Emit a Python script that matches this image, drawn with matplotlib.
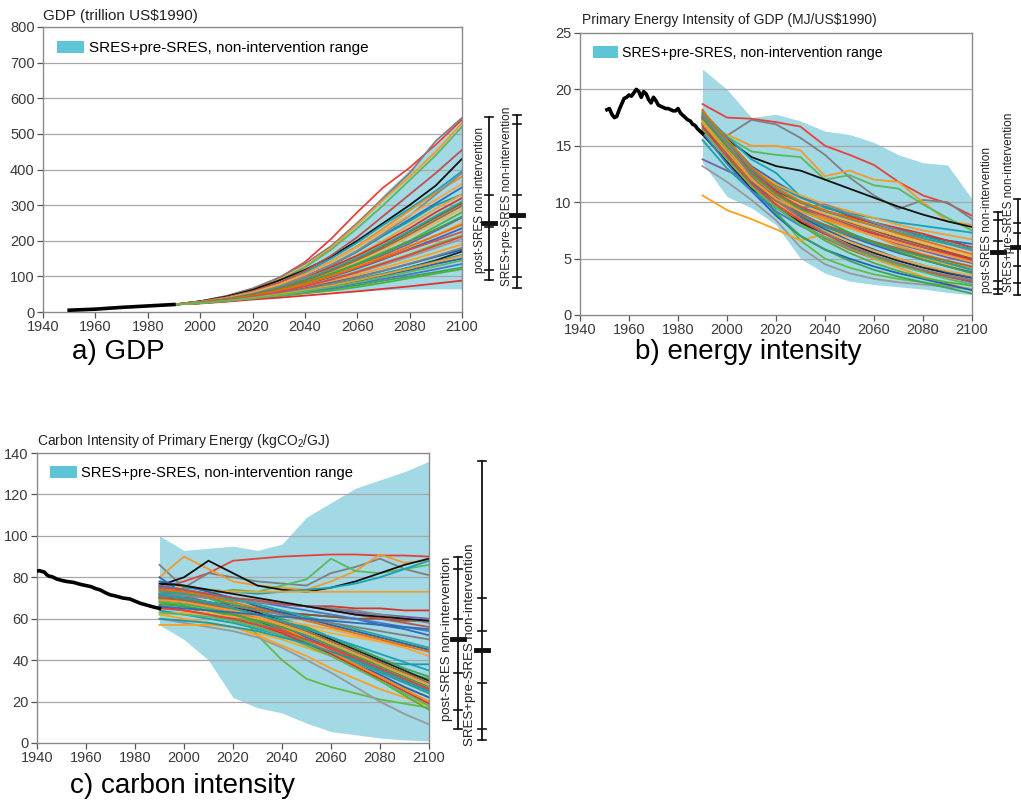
import matplotlib
matplotlib.use("Agg")
import matplotlib.pyplot as plt
from matplotlib.patches import Patch
from matplotlib.transforms import blended_transform_factory

plt.rcParams["font.family"] = "Liberation Sans"
plt.rcParams["mathtext.fontset"] = "custom"
plt.rcParams["mathtext.rm"] = "Liberation Sans"
plt.rcParams["mathtext.default"] = "regular"

W, H = 1021, 808

# scenario years (decadal)
years = [1990, 2000, 2010, 2020, 2030, 2040, 2050, 2060, 2070, 2080, 2090, 2100]

line_colors = ['#e8413c', '#7f7f7f', '#f39a2b', '#5cb85c', '#111111', '#17a2b8',
               '#2e6db4', '#1c9aa8', '#f0a030', '#d9342b', '#8b5a2b', '#f7b040',
               '#4caf50', '#7b5ea7', '#f5a623', '#3366cc', '#e04e39', '#66bb44',
               '#999999', '#ff9f1c', '#1f5fbf', '#222222', '#20a0a0', '#2b5fa8',
               '#3aa655', '#4477cc', '#52b043', '#e03030', '#f08c1a', '#888888',
               '#c0504d', '#f2a541', '#26a69a', '#9c6b3c', '#43a047', '#ef6c00']

# ---------------- a) GDP ----------------
gdp_hist_years = [1950, 1955, 1960, 1965, 1970, 1975, 1980, 1985, 1990]
gdp_hist = [5, 6.5, 8, 10.5, 13, 15, 17, 19, 21]
gdp_upper = [22, 32, 45, 62, 85, 125, 180, 250, 330, 400, 470, 550]
gdp_lower = [20, 26, 33, 40, 47, 53, 57, 60, 62, 64, 65, 65]
gdp_scen = [
    [21, 30, 44, 65, 95, 140, 205, 280, 350, 405, 470, 540],
    [21, 30, 45, 66, 96, 135, 185, 250, 320, 390, 480, 545],
    [21, 29, 42, 62, 90, 128, 180, 245, 315, 380, 450, 530],
    [21, 29, 42, 60, 88, 125, 175, 235, 300, 370, 440, 520],
    [21, 30, 43, 62, 88, 118, 155, 200, 250, 300, 355, 430],
    [21, 29, 40, 57, 80, 110, 150, 195, 245, 290, 340, 395],
    [21, 28, 39, 54, 75, 100, 132, 170, 215, 260, 305, 350],
    [21, 28, 38, 52, 72, 97, 130, 170, 215, 255, 300, 330],
    [21, 28, 38, 52, 70, 95, 125, 160, 200, 245, 290, 330],
    [21, 28, 39, 54, 74, 98, 126, 158, 195, 235, 280, 320],
    [21, 27, 37, 50, 68, 90, 118, 150, 185, 225, 265, 305],
    [21, 27, 36, 48, 65, 86, 112, 142, 175, 212, 250, 290],
    [21, 27, 36, 48, 64, 84, 108, 136, 168, 200, 240, 280],
    [21, 27, 36, 47, 62, 81, 104, 130, 160, 192, 228, 265],
    [21, 27, 35, 46, 61, 80, 102, 128, 155, 185, 215, 250],
    [21, 26, 34, 45, 59, 77, 98, 122, 148, 177, 205, 235],
    [21, 26, 34, 45, 60, 78, 100, 125, 150, 175, 200, 225],
    [21, 26, 34, 44, 57, 73, 92, 114, 138, 162, 190, 215],
    [21, 26, 33, 43, 56, 72, 90, 110, 132, 155, 180, 205],
    [21, 26, 33, 42, 54, 68, 85, 104, 124, 145, 167, 190],
    [21, 26, 33, 42, 53, 66, 82, 98, 116, 135, 155, 175],
    [21, 25, 32, 40, 50, 62, 75, 88, 105, 125, 145, 170],
    [21, 25, 32, 40, 50, 62, 76, 92, 108, 125, 142, 160],
    [21, 25, 31, 39, 48, 59, 72, 86, 102, 118, 135, 150],
    [21, 25, 31, 38, 46, 55, 64, 75, 88, 100, 112, 125],
    [21, 25, 31, 38, 46, 56, 67, 80, 93, 106, 120, 135],
    [21, 25, 30, 37, 44, 52, 60, 70, 82, 95, 108, 120],
    [21, 24, 29, 35, 40, 46, 52, 58, 65, 72, 80, 88],
    [21, 28, 40, 56, 78, 106, 142, 185, 235, 285, 335, 380],
    [21, 28, 38, 53, 73, 99, 132, 172, 220, 270, 330, 390],
    [21, 29, 41, 58, 82, 115, 158, 210, 270, 330, 390, 455],
    [21, 28, 39, 55, 77, 105, 140, 182, 228, 272, 315, 360],
    [21, 27, 37, 51, 69, 92, 120, 152, 188, 228, 270, 310],
    [21, 27, 36, 49, 66, 88, 115, 146, 180, 218, 258, 298],
    [21, 26, 35, 46, 62, 82, 106, 134, 165, 198, 232, 268],
    [21, 26, 34, 45, 60, 79, 101, 126, 154, 184, 214, 245],
    [21, 26, 33, 43, 56, 72, 91, 112, 136, 160, 186, 212],
    [21, 25, 32, 41, 52, 65, 80, 97, 116, 136, 157, 180],
    [21, 25, 31, 39, 49, 61, 74, 89, 105, 122, 140, 158],
    [21, 25, 31, 38, 47, 58, 70, 83, 98, 113, 128, 145],
]
gdp_post = dict(lo=90, hi=547, ticks=[118, 239, 328], median=250)
gdp_sres = dict(lo=67, hi=553, ticks=[98, 236, 328, 528], median=272)

# ---------------- b) energy intensity ----------------
ei_hist_years = list(range(1951, 1991))
ei_hist = [18.2, 18.3, 17.8, 17.5, 17.6, 18.2, 18.7, 19.2, 19.3, 19.5,
           19.4, 19.7, 20.0, 19.8, 19.3, 19.8, 19.6, 19.1, 18.8, 19.3,
           19.0, 18.6, 18.5, 18.4, 18.3, 18.3, 18.2, 18.1, 18.1, 18.3,
           17.9, 17.7, 17.5, 17.3, 17.2, 16.9, 16.8, 16.5, 16.3, 16.1]
ei_upper = [21.8, 20.0, 17.5, 17.8, 17.2, 16.3, 16.0, 15.3, 14.2, 13.5, 13.3, 10.3]
ei_lower = [13.5, 10.5, 9.5, 8.0, 5.0, 3.7, 3.0, 2.7, 2.5, 2.3, 2.0, 1.8]
ei_scen = [
    [18.7, 17.5, 17.4, 17.1, 16.7, 15.0, 14.2, 13.3, 11.8, 10.6, 9.9, 8.8],
    [16.2, 15.9, 17.3, 16.9, 15.7, 14.2, 12.2, 10.6, 9.4, 10.2, 10.0, 8.5],
    [17.0, 16.0, 15.0, 15.0, 14.6, 12.3, 12.8, 12.0, 11.8, 10.0, 8.3, 8.0],
    [17.3, 15.8, 14.5, 14.2, 14.0, 12.0, 12.4, 11.5, 11.2, 9.8, 8.6, 7.5],
    [17.5, 15.6, 14.0, 13.2, 12.8, 12.0, 11.2, 10.4, 9.6, 8.9, 8.3, 7.8],
    [18.0, 15.8, 13.8, 12.6, 10.5, 9.5, 9.0, 8.6, 8.2, 7.9, 7.6, 7.3],
    [17.8, 15.5, 13.2, 11.8, 10.5, 9.6, 8.8, 8.1, 7.5, 7.0, 6.6, 6.3],
    [17.0, 15.0, 13.0, 11.5, 10.4, 9.6, 8.9, 8.2, 7.6, 7.0, 6.4, 5.8],
    [16.5, 14.8, 13.0, 11.6, 10.6, 9.8, 9.2, 8.6, 8.0, 7.5, 7.1, 6.7],
    [17.6, 15.3, 12.8, 11.0, 9.8, 9.2, 8.7, 8.2, 7.7, 7.2, 6.6, 6.0],
    [17.5, 15.2, 13.0, 11.0, 9.9, 9.0, 8.2, 7.5, 6.8, 6.2, 5.6, 5.0],
    [17.2, 14.6, 12.4, 10.8, 9.8, 9.0, 8.3, 7.6, 7.0, 6.4, 5.8, 5.2],
    [17.9, 15.0, 12.0, 10.2, 8.8, 7.8, 7.0, 6.3, 5.7, 5.1, 4.6, 4.2],
    [13.8, 12.8, 11.8, 10.6, 9.5, 8.6, 7.8, 7.0, 6.3, 5.7, 5.1, 4.6],
    [16.8, 14.2, 11.6, 9.6, 8.4, 7.6, 6.9, 6.2, 5.6, 5.0, 4.5, 4.0],
    [17.4, 14.6, 12.2, 10.4, 9.0, 7.9, 7.0, 6.2, 5.5, 4.9, 4.3, 3.8],
    [18.2, 15.0, 12.4, 10.3, 8.2, 6.8, 5.8, 5.0, 4.4, 3.9, 3.5, 3.1],
    [17.1, 14.0, 11.4, 9.2, 6.6, 5.0, 4.2, 3.6, 3.2, 2.9, 2.6, 2.3],
    [13.2, 11.8, 10.2, 8.4, 6.0, 4.5, 3.7, 3.2, 2.9, 2.7, 2.5, 2.3],
    [10.6, 9.3, 8.5, 7.6, 6.6, 7.2, 6.0, 5.0, 4.2, 3.4, 2.8, 2.2],
    [17.0, 14.2, 11.0, 8.8, 7.0, 5.8, 5.0, 4.3, 3.7, 3.2, 2.7, 2.2],
    [16.0, 13.6, 11.2, 9.5, 8.2, 7.2, 6.3, 5.5, 4.8, 4.2, 3.7, 3.3],
    [15.5, 13.0, 11.0, 9.6, 8.6, 7.8, 7.1, 6.4, 5.8, 5.2, 4.6, 4.0],
    [16.8, 14.0, 11.8, 10.0, 8.7, 7.6, 6.6, 5.8, 5.0, 4.4, 3.8, 3.3],
    [17.6, 14.4, 11.5, 9.0, 7.0, 5.8, 4.8, 4.0, 3.4, 2.9, 2.4, 1.9],
    [16.2, 13.4, 11.0, 9.2, 7.9, 6.9, 6.0, 5.2, 4.5, 3.9, 3.4, 2.9],
    [17.3, 14.4, 11.6, 9.6, 8.0, 6.6, 5.5, 4.6, 3.9, 3.3, 2.9, 2.6],
    [17.0, 15.5, 13.0, 11.0, 9.2, 8.4, 7.8, 7.2, 6.6, 6.0, 5.5, 4.9],
    [17.8, 15.2, 12.4, 10.6, 9.3, 8.6, 7.8, 7.0, 6.1, 5.4, 4.8, 4.2],
    [17.5, 14.0, 11.4, 9.8, 9.5, 9.8, 9.0, 8.2, 7.5, 6.8, 6.3, 5.7],
    [17.6, 15.0, 12.6, 10.8, 9.6, 8.8, 8.0, 7.3, 6.6, 6.0, 5.4, 4.8],
    [17.2, 14.8, 12.2, 10.0, 8.5, 7.4, 6.5, 5.7, 5.0, 4.4, 3.9, 3.5],
    [17.9, 15.4, 12.9, 11.2, 10.0, 9.2, 8.5, 7.9, 7.3, 6.8, 6.3, 5.9],
    [16.9, 14.3, 11.9, 10.1, 8.9, 8.0, 7.2, 6.5, 5.9, 5.3, 4.8, 4.3],
    [17.4, 14.9, 12.5, 10.7, 9.4, 8.3, 7.3, 6.4, 5.6, 4.9, 4.3, 3.7],
    [18.1, 15.6, 13.1, 11.3, 10.1, 9.3, 8.6, 7.9, 7.2, 6.6, 6.0, 5.4],
    [16.6, 14.0, 11.6, 9.8, 8.4, 7.2, 6.1, 5.2, 4.5, 3.9, 3.4, 3.0],
    [17.7, 15.1, 12.3, 10.2, 8.6, 7.3, 6.2, 5.3, 4.6, 4.0, 3.5, 3.1],
    [17.0, 14.5, 12.0, 10.3, 9.2, 8.4, 7.7, 7.0, 6.4, 5.8, 5.3, 4.7],
    [16.4, 13.8, 11.4, 9.5, 8.0, 6.9, 5.9, 5.1, 4.4, 3.8, 3.2, 2.7],
]
ei_post = dict(lo=1.9, hi=9.1, ticks=[2.3, 3.0, 6.6, 8.4], median=5.6)
ei_sres = dict(lo=1.8, hi=10.3, ticks=[2.8, 4.3, 7.3, 8.2], median=6.0)

# ---------------- c) carbon intensity ----------------
ci_hist_years = [1940, 1941, 1942, 1943, 1944, 1945, 1946, 1947, 1948, 1950, 1952,
                 1955, 1958, 1960, 1962, 1964, 1966, 1968, 1970, 1972, 1975, 1978,
                 1980, 1982, 1985, 1988, 1990]
ci_hist = [83, 83.2, 82.8, 82.5, 81.2, 80.5, 80.3, 79.8, 79.2, 78.5, 78,
           77.5, 76.5, 76, 75.5, 74.5, 73.8, 72.5, 71.5, 71, 70, 69.5,
           68.5, 67.5, 66.5, 65.5, 65]
ci_upper = [100, 93, 94, 95, 93, 96, 109, 116, 123, 127, 131, 136]
ci_lower = [57, 50, 40, 22, 17, 14.5, 9.6, 5.5, 4, 2.4, 1.5, 1]
ci_scen = [
    [75, 78, 82, 88, 89, 90, 90.5, 91, 91, 90.5, 90.5, 90],
    [86, 75, 82, 80, 78, 77, 76, 82, 85, 89, 84, 81],
    [80, 90, 84, 78, 76, 75, 74, 78, 83, 91, 87, 88],
    [72, 70, 72, 74, 73, 76, 79, 89, 83, 82, 84, 86],
    [76, 80, 88, 82, 76, 74, 73, 75, 78, 82, 86, 89],
    [70, 75, 74, 73, 72, 73, 74, 75, 77, 80, 84, 88],
    [80, 72, 70, 66, 65, 63, 62, 61, 60, 57, 55, 52],
    [75, 66, 62, 59, 56, 52, 48, 44, 41, 39, 38, 38],
    [73, 76, 74, 73, 73, 73, 73, 73, 73, 73, 73, 73],
    [72, 72, 70, 69, 68, 67, 66, 66, 65, 65, 64, 64],
    [70, 68, 66, 65, 64, 63, 62, 61, 60, 60, 59, 59],
    [66, 64, 63, 62, 60, 58, 56, 53, 51, 49, 47, 46],
    [68, 67, 65, 62, 58, 54, 50, 46, 42, 38, 34, 31],
    [74, 73, 72, 70, 68, 67, 66, 65, 63, 62, 61, 60],
    [62, 60, 58, 56, 53, 50, 46, 42, 37, 32, 27, 22],
    [70, 69, 67, 64, 60, 56, 51, 46, 41, 36, 31, 26],
    [72, 71, 68, 64, 60, 55, 50, 45, 40, 35, 30, 25],
    [76, 74, 70, 65, 52, 40, 31, 27, 24, 21, 19, 17],
    [60, 58, 56, 54, 51, 46, 40, 34, 27, 20, 14, 9],
    [57, 57, 57, 56, 52, 47, 42, 36, 31, 26, 22, 18],
    [69, 68, 66, 63, 59, 54, 49, 44, 38, 33, 27, 22],
    [71, 70, 68, 66, 63, 59, 55, 50, 45, 40, 35, 30],
    [64, 62, 60, 58, 55, 52, 48, 44, 39, 34, 29, 24],
    [78, 76, 73, 70, 66, 63, 60, 57, 54, 51, 48, 45],
    [74, 72, 70, 67, 64, 60, 56, 51, 46, 41, 36, 32],
    [76, 74, 72, 70, 68, 66, 64, 62, 60, 58, 56, 54],
    [68, 66, 64, 61, 58, 54, 49, 43, 37, 30, 23, 16],
    [66, 64, 62, 60, 57, 53, 48, 43, 37, 31, 25, 19],
    [70, 68, 66, 63, 60, 56, 50, 44, 38, 32, 26, 20],
    [72, 71, 70, 69, 68, 67, 66, 65, 64, 62, 60, 58],
    [75, 74, 72, 70, 69, 67, 66, 64, 62, 60, 58, 56],
    [62, 63, 62, 61, 60, 59, 57, 55, 52, 49, 46, 42],
    [73, 72, 71, 69, 67, 64, 61, 58, 55, 52, 49, 46],
    [70, 69, 67, 65, 62, 58, 54, 49, 44, 39, 34, 29],
    [67, 66, 64, 62, 59, 56, 52, 47, 42, 37, 32, 27],
    [74, 73, 71, 68, 65, 62, 59, 56, 53, 50, 47, 44],
    [65, 64, 62, 60, 57, 54, 50, 46, 41, 36, 31, 26],
    [71, 70, 68, 66, 64, 62, 60, 58, 56, 54, 52, 50],
    [69, 68, 66, 64, 61, 57, 53, 48, 43, 38, 33, 28],
    [63, 62, 61, 59, 56, 52, 47, 42, 36, 30, 24, 18],
    [77, 76, 74, 72, 70, 68, 66, 64, 62, 61, 60, 59],
    [72, 70, 68, 65, 62, 59, 55, 51, 47, 43, 39, 35],
    [66, 65, 64, 63, 62, 61, 60, 59, 58, 57, 56, 55],
    [60, 59, 58, 56, 54, 51, 48, 44, 40, 35, 30, 25],
]
ci_post = dict(lo=7, hi=90, ticks=[16, 34, 60, 84], median=50)
ci_sres = dict(lo=1.5, hi=136, ticks=[7, 29, 54, 70], median=45)

fill_color = '#a2d9e5'
patch_color = '#5ec5d6'
legend_label = "SRES+pre-SRES, non-intervention range"

fig = plt.figure(figsize=(W / 100, H / 100), dpi=100)


def add_axes(left, top, right, bottom):
    return fig.add_axes([left / W, 1 - bottom / H, (right - left) / W, (bottom - top) / H])


def ftext(x, y, s, **kw):
    fig.text(x / W, 1 - y / H, s, **kw)


def style(ax, ymax, ystep, legend_fs):
    ax.set_xlim(1940, 2100)
    ax.set_ylim(0, ymax)
    ax.set_xticks(range(1940, 2101, 20))
    yt = list(range(0, ymax + 1, ystep))
    ax.set_yticks(yt)
    for v in yt[1:-1]:
        ax.axhline(v, color='#a8a8a8', lw=0.9, zorder=1.5)
    for s in ax.spines.values():
        s.set_color('#8a8a8a')
        s.set_linewidth(1.0)
    ax.tick_params(direction='out', length=4, width=0.9, color='#555555',
                   labelcolor='#3a3a3a', labelsize=10.5, pad=2)
    ax.legend(handles=[Patch(facecolor=patch_color, edgecolor='none', label=legend_label)],
              loc='upper left', frameon=False, fontsize=legend_fs, handlelength=1.8,
              handleheight=0.9, handletextpad=0.3, borderaxespad=0.5)


def draw_panel(ax, hx, hy, upper, lower, scen):
    ax.fill_between(years, lower, upper, color=fill_color, lw=0, zorder=1)
    for i, s in enumerate(scen):
        ax.plot(years, s, color=line_colors[i % len(line_colors)], lw=1.3, zorder=2)
    ax.plot(hx, hy, color='black', lw=2.6, zorder=3)


def range_bar(ax, xpx, bar):
    tr = blended_transform_factory(fig.transFigure, ax.transData)
    x = xpx / W
    d = 4 / W
    kw = dict(color='#111111', transform=tr, clip_on=False)
    ax.plot([x, x], [bar['lo'], bar['hi']], lw=1.3, **kw)
    for t in bar['ticks'] + [bar['lo'], bar['hi']]:
        ax.plot([x - d, x + d], [t, t], lw=1.2, **kw)
    ax.plot([x - 1.4 * d, x + 1.4 * d], [bar['median'], bar['median']], lw=3.5, **kw)


# panel a
ax_a = add_axes(43, 27, 462, 312)
draw_panel(ax_a, gdp_hist_years, gdp_hist, gdp_upper, gdp_lower, gdp_scen)
style(ax_a, 800, 100, 11)
range_bar(ax_a, 489, gdp_post)
range_bar(ax_a, 517, gdp_sres)
ftext(43, 16, r"GDP (trillion US\$1990)", fontsize=11, va='center', color='#222222')
ftext(480, 200, "post-SRES non-intervention", rotation=90, ha='center', va='center',
      fontsize=8.5, color='#222222')
ftext(507, 196, "SRES+pre-SRES non-intervention", rotation=90, ha='center', va='center',
      fontsize=8.5, color='#222222')
ftext(72, 352, "a) GDP", fontsize=20, va='center')

# panel b
ax_b = add_axes(580, 33, 972, 315)
draw_panel(ax_b, ei_hist_years, ei_hist, ei_upper, ei_lower, ei_scen)
style(ax_b, 25, 5, 10.2)
range_bar(ax_b, 998, ei_post)
range_bar(ax_b, 1018, ei_sres)
ftext(582, 20, r"Primary Energy Intensity of GDP (MJ/US\$1990)", fontsize=10, va='center',
      color='#222222')
ftext(987, 220, "post-SRES non-intervention", rotation=90, ha='center', va='center',
      fontsize=8.5, color='#222222')
ftext(1009, 202, "SRES+pre-SRES non-intervention", rotation=90, ha='center', va='center',
      fontsize=8.5, color='#222222')
ftext(635, 352, "b) energy intensity", fontsize=20, va='center')

# panel c
ax_c = add_axes(37, 453, 429, 743)
draw_panel(ax_c, ci_hist_years, ci_hist, ci_upper, ci_lower, ci_scen)
style(ax_c, 140, 20, 10.6)
range_bar(ax_c, 458, ci_post)
range_bar(ax_c, 482, ci_sres)
ftext(37, 441, r"Carbon Intensity of Primary Energy (kgCO$_2$/GJ)", fontsize=10, va='center',
      color='#222222')
ftext(447, 639, "post-SRES non-intervention", rotation=90, ha='center', va='center',
      fontsize=9.5, color='#222222')
ftext(470, 645, "SRES+pre-SRES non-intervention", rotation=90, ha='center', va='center',
      fontsize=9.5, color='#222222')
ftext(70, 786, "c) carbon intensity", fontsize=20, va='center')

fig.savefig("out.png", dpi=100)
